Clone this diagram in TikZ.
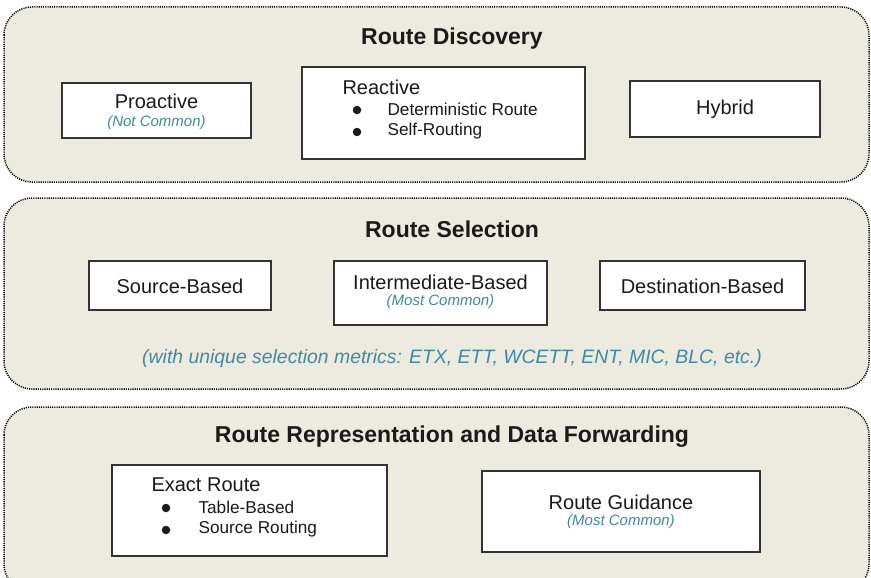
\documentclass[tikz,border=0pt]{standalone}
\usepackage{fontspec}
\setmainfont{Liberation Sans}
\definecolor{panelfill}{HTML}{EDEAE0}
\definecolor{noteteal}{HTML}{3B8CA0}
\definecolor{inktext}{HTML}{1A1A1A}
\definecolor{boxline}{HTML}{333333}
\begin{document}
\begin{tikzpicture}[x=1pt,y=-1pt,
  panel/.style={fill=panelfill,draw=black,line width=1.5pt,dash pattern=on 1.1pt off 1.1pt,rounded corners=28pt},
  itembox/.style={fill=white,draw=boxline,line width=1.1pt},
  title/.style={font=\fontsize{23}{27}\selectfont\bfseries,text=inktext},
  body/.style={font=\fontsize{20}{24}\selectfont,text=inktext},
  note/.style={font=\fontsize{15}{18}\selectfont\itshape,text=noteteal},
  item/.style={font=\fontsize{17.2}{20}\selectfont,text=inktext,anchor=west},
  bulletdot/.style={circle,fill=inktext,draw=none,inner sep=0pt,minimum size=8.5pt}]
\useasboundingbox (0,0) rectangle (871,578);
\begin{scope}
\clip (0,0) rectangle (871,578);
% the three layers
\draw[panel] (4,7) rectangle (869,182);
\draw[panel] (4,198) rectangle (869,389);
\draw[panel] (4,407) rectangle (869,592);
\end{scope}

% Route Discovery
\node[title] (t1) at (452,39) {Route Discovery};
\draw[itembox] (62,83) rectangle (251,138);
\node[body] (pro) at (156.5,101) {Proactive};
\node[note] (pronote) at (156.5,123) {(Not Common)};
\draw[itembox] (302,67) rectangle (585,159);
\node[body,anchor=west] (rea) at (339,87) {Reactive};
\node[bulletdot] (rb1) at (357,110) {};
\node[item] (ri1) at (384,109) {Deterministic Route};
\node[bulletdot] (rb2) at (357,132) {};
\node[item] (ri2) at (384,131) {Self-Routing};
\draw[itembox] (630,81) rectangle (820,137);
\node[body] (hyb) at (725,109) {Hybrid};

% Route Selection
\node[title] (t2) at (452,229) {Route Selection};
\draw[itembox] (89,261) rectangle (271,310);
\node[body] (src) at (180,286) {Source-Based};
\draw[itembox] (334,261) rectangle (547,325);
\node[body] (mid) at (440.5,282) {Intermediate-Based};
\node[note] (midnote) at (440.5,302) {(Most Common)};
\draw[itembox] (600,261) rectangle (805,310);
\node[body] (dst) at (702.5,286) {Destination-Based};
\node[note,font=\fontsize{19.4}{23}\selectfont\itshape] (metrics) at (452,358)
  {(with unique selection metrics: ETX, ETT, WCETT, ENT, MIC, BLC, etc.)};

% Route Representation and Data Forwarding
\node[title] (t3) at (452,437) {Route Representation and Data Forwarding};
\draw[itembox] (112,465) rectangle (387,556);
\node[body,anchor=west] (exa) at (148,485) {Exact Route};
\node[bulletdot] (eb1) at (166,508) {};
\node[item] (ei1) at (195,507) {Table-Based};
\node[bulletdot] (eb2) at (166,530) {};
\node[item] (ei2) at (195,529) {Source Routing};
\draw[itembox] (482,471) rectangle (760,552);
\node[body] (gui) at (621,502) {Route Guidance};
\node[note] (guinote) at (621,522) {(Most Common)};
\end{tikzpicture}
\end{document}
